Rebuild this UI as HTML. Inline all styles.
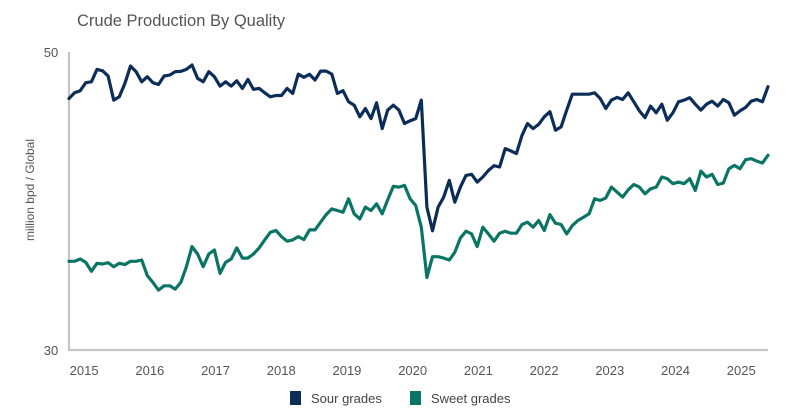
<!DOCTYPE html>
<html><head><meta charset="utf-8"><style>
html,body{margin:0;padding:0;background:#fff;}
svg{display:block;font-family:"Liberation Sans",sans-serif;}
</style></head><body>
<svg id="chart" width="800" height="418">
<text x="77" y="26" font-size="16.5" fill="#555">Crude Production By Quality</text>
<text transform="translate(34,190) rotate(-90)" text-anchor="middle" font-size="12" fill="#555">million bpd / Global</text>
<g id="plot"></g>
<g>
<rect x="290" y="391" width="11" height="14" fill="#0b2d57"/>
<text x="311" y="403" font-size="13" fill="#444">Sour grades</text>
<rect x="410" y="391" width="11" height="14" fill="#0b7565"/>
<text x="431" y="403" font-size="13" fill="#444">Sweet grades</text>
</g>
</svg>
<script>
const yTicks = [30, 50];
const xTicks = [2015,2016,2017,2018,2019,2020,2021,2022,2023,2024,2025];
const startYear = 2014.77;
const monthStep = 0.0851;
const sour = [46.88,47.26,47.40,47.94,48.00,48.83,48.74,48.39,46.77,46.99,47.89,49.06,48.68,48.00,48.34,47.94,47.82,48.39,48.45,48.68,48.70,48.83,49.13,48.23,48.00,48.68,48.34,47.71,48.00,47.71,48.07,47.56,48.16,47.49,47.56,47.26,46.99,47.08,47.08,47.56,47.22,48.52,48.30,48.50,48.12,48.72,48.72,48.52,47.22,47.40,46.66,46.43,45.65,46.21,45.53,46.59,44.86,46.10,46.43,46.10,45.20,45.38,45.53,
46.77,
39.59,38.0,39.59,40.26,41.38,39.92,40.93,41.72,41.79,41.27,41.61,42.05,42.37,42.28,43.52,43.36,43.18,44.41,45.20,44.86,45.15,45.65,45.99,44.75,44.97,46.10,47.17,47.17,47.17,47.17,47.26,46.88,46.21,46.77,46.95,46.81,47.26,46.66,46.05,45.60,46.37,45.92,46.50,45.42,45.92,46.66,46.77,46.93,46.50,46.10,46.50,46.70,46.37,46.81,46.59,45.76,46.05,46.28,46.70,46.81,46.66,47.67];
const sweet = [35.95,35.95,36.11,35.88,35.28,35.82,35.77,35.86,35.59,35.82,35.73,35.95,35.95,36.04,34.99,34.54,34.02,34.31,34.31,34.09,34.54,35.59,36.94,36.44,35.59,36.44,36.71,35.14,35.88,36.11,36.85,36.17,36.17,36.44,36.85,37.39,37.90,38.02,37.61,37.30,37.39,37.61,37.41,38.06,38.06,38.58,39.09,39.47,39.36,39.25,40.15,39.14,38.80,39.59,39.36,39.81,39.14,40.08,40.98,40.93,41.05,40.15,39.70,
38.24,
34.87,36.26,36.26,36.17,36.04,36.56,37.52,37.97,37.79,36.94,38.24,37.79,37.30,37.84,37.97,37.84,37.84,38.42,38.58,38.24,38.69,38.02,39.09,38.51,38.42,37.79,38.35,38.69,38.91,39.14,40.15,40.04,40.21,40.93,40.60,40.26,40.75,41.11,40.93,40.48,40.82,40.93,41.61,41.50,41.16,41.27,41.16,41.50,40.71,42.01,41.61,41.79,41.11,41.20,42.17,42.39,42.17,42.77,42.84,42.68,42.55,43.07];

const NS='http://www.w3.org/2000/svg';
const plot=document.getElementById('plot');
const X0=69, X1=768, Y0=350, Y1=52;
const xMin=startYear, xMax=startYear+(sour.length-1)*monthStep;
function xs(t){return X0+(t-xMin)/(xMax-xMin)*(X1-X0);}
function ys(v){return Y0-(v-yTicks[0])/(yTicks[1]-yTicks[0])*(Y0-Y1);}
function mk(tag,attrs){const e=document.createElementNS(NS,tag);for(const k in attrs)e.setAttribute(k,attrs[k]);plot.appendChild(e);return e;}

const ax=mk('path',{d:`M${X0},${Y1}V${Y0}H${X1}`,fill:'none',stroke:'#c4c4c4','stroke-width':2.2});


yTicks.forEach(v=>{
  const t=mk('text',{x:51,y:ys(v)+5,'text-anchor':'middle','font-size':13,fill:'#555'});
  t.textContent=v;
  
  
});
xTicks.forEach(v=>{
  const t=mk('text',{x:xs(v),y:375,'text-anchor':'middle','font-size':13,fill:'#555'});
  t.textContent=v;
  
  
});
function line(arr,color,name){
  const d=arr.map((v,i)=>(i?'L':'M')+xs(startYear+i*monthStep).toFixed(1)+','+ys(v).toFixed(1)).join('');
  const p=mk('path',{d:d,fill:'none',stroke:color,'stroke-width':3.2,'stroke-linejoin':'round','stroke-linecap':'round'});
  
  
}
line(sweet,'#0b7565','sweet-grades-line');
line(sour,'#0b2d57','sour-grades-line');
</script>
</body></html>
